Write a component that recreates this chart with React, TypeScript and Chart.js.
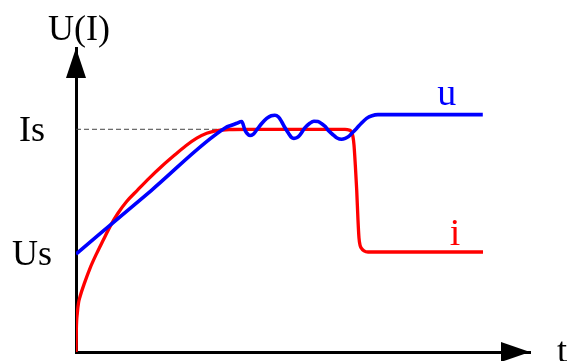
import React, { useEffect, useRef } from 'react';
import { Chart, registerables } from 'chart.js';

Chart.register(...registerables);

const FONT = '"Liberation Serif", "Times New Roman", serif';

// Axis text
const yAxisTitle = 'U(I)';
const xAxisTitle = 't';
const yTickValues = [0.44, 1.0];
const yTickLabels = ['Us', 'Is'];
const T_MAX = 100;
const U_MAX = 1.365;

// Series names
const voltageName = 'u';
const currentName = 'i';

// Voltage u(t)
const voltageTime = [0, 16.5, 33.0, 34.1, 35.4, 36.5, 37.2, 37.7, 38.3, 39.0, 39.8, 40.9, 42.0, 43.0, 43.8, 44.6, 45.3, 46.0, 46.8, 47.4, 48.0, 48.7, 49.3, 50.4, 51.5, 52.4, 53.3, 54.2, 54.9, 55.7, 56.7, 57.5, 58.5, 59.3, 60.0, 60.8, 61.8, 62.8, 64.0, 65.2, 66.5, 68.1, 89.6];
const voltageValue = [0.44, 0.724, 1.008, 1.017, 1.027, 1.035, 0.997, 0.981, 0.972, 0.977, 0.997, 1.026, 1.049, 1.061, 1.063, 1.055, 1.034, 1.008, 0.982, 0.965, 0.959, 0.963, 0.974, 1.006, 1.027, 1.036, 1.035, 1.024, 1.012, 0.992, 0.974, 0.961, 0.955, 0.959, 0.967, 0.983, 1.004, 1.026, 1.049, 1.061, 1.066, 1.066, 1.066];

// Current i(t)
const currentTime = [0, 0.07, 0.29, 0.55, 0.88, 1.98, 3.08, 4.56, 6.01, 7.49, 9.2, 11.2, 13.6, 16.2, 18.9, 21.6, 24.2, 26.6, 28.8, 31.0, 33.7, 38.3, 59.25, 60.13, 60.68, 61.01, 61.23, 61.52, 61.83, 62.11, 62.33, 62.56, 62.89, 63.44, 64.32, 89.65];
const currentValue = [0, 0.099, 0.175, 0.22, 0.248, 0.316, 0.376, 0.443, 0.503, 0.563, 0.622, 0.677, 0.728, 0.782, 0.834, 0.882, 0.926, 0.96, 0.982, 0.994, 0.999, 1.0, 1.0, 0.997, 0.988, 0.966, 0.93, 0.84, 0.727, 0.593, 0.512, 0.48, 0.465, 0.454, 0.449, 0.449];

// Is reference level
const isLevelTime = [0, 37];
const isLevelValue = [1, 1];

const toPoints = (xs: number[], ys: number[]) => xs.map((x, k) => ({ x, y: ys[k] }));

const decorPlugin = {
  id: 'decor',
  afterDraw(chart: any) {
    const { ctx, chartArea } = chart;
    const { left, right, top, bottom } = chartArea;
    ctx.save();
    ctx.fillStyle = '#000';
    // y arrow
    ctx.beginPath();
    ctx.moveTo(left, top);
    ctx.lineTo(left - 10, top + 30);
    ctx.lineTo(left + 10, top + 30);
    ctx.closePath();
    ctx.fill();
    // x arrow
    ctx.beginPath();
    ctx.moveTo(right, bottom);
    ctx.lineTo(right - 29, bottom - 10);
    ctx.lineTo(right - 29, bottom + 10);
    ctx.closePath();
    ctx.fill();

    ctx.font = '36px ' + FONT;
    ctx.textBaseline = 'alphabetic';
    ctx.textAlign = 'center';
    ctx.fillText(yAxisTitle, left + 3, top - 8);
    ctx.textAlign = 'left';
    ctx.fillText(xAxisTitle, right + 27, bottom + 10);

    const metaU = chart.getDatasetMeta(0);
    const metaI = chart.getDatasetMeta(1);
    const lastU = metaU.data[metaU.data.length - 1];
    const lastI = metaI.data[metaI.data.length - 1];
    ctx.font = '38px ' + FONT;
    ctx.textAlign = 'center';
    ctx.fillStyle = '#0000ff';
    ctx.fillText(voltageName, lastU.x - 36, lastU.y - 10);
    ctx.fillStyle = '#ff0000';
    ctx.fillText(currentName, lastI.x - 28, lastI.y - 7);
    ctx.restore();
  },
};

export default function App() {
  const ref = useRef<HTMLCanvasElement | null>(null);
  useEffect(() => {
    if (!ref.current) return;
    const chart = new Chart(ref.current, {
      type: 'line',
      data: {
        datasets: [
          {
            label: voltageName,
            data: toPoints(voltageTime, voltageValue),
            borderColor: '#0000ff',
            borderWidth: 3.6,
            pointRadius: 0,
            cubicInterpolationMode: 'monotone',
            borderJoinStyle: 'round',
            fill: false,
          },
          {
            label: currentName,
            data: toPoints(currentTime, currentValue),
            borderColor: '#ff0000',
            borderWidth: 3.3,
            pointRadius: 0,
            cubicInterpolationMode: 'monotone',
            borderJoinStyle: 'round',
            fill: false,
          },
          {
            label: 'Is',
            data: toPoints(isLevelTime, isLevelValue),
            borderColor: '#444444',
            borderWidth: 1,
            borderDash: [5, 3],
            pointRadius: 0,
            tension: 0,
            fill: false,
          },
        ],
      },
      options: {
        responsive: false,
        animation: false,
        events: [],
        layout: { padding: { left: 0, right: 38, top: 48, bottom: 39 } },
        plugins: { legend: { display: false }, tooltip: { enabled: false }, title: { display: false } },
        scales: {
          x: {
            type: 'linear',
            min: 0,
            max: T_MAX,
            ticks: { display: false },
            grid: { display: false, drawTicks: false },
            border: { display: true, color: '#000', width: 3 },
          },
          y: {
            type: 'linear',
            min: 0,
            max: U_MAX,
            afterBuildTicks: (scale: any) => {
              scale.ticks = yTickValues.map((v) => ({ value: v }));
            },
            ticks: {
              callback: (v: any) => {
                const k = yTickValues.indexOf(Number(v));
                return k >= 0 ? yTickLabels[k] : '';
              },
              font: { family: FONT, size: 36, lineHeight: 0.5 },
              color: '#000',
              padding: 12,
              crossAlign: 'center',
              labelOffset: 2,
              autoSkip: false,
            },
            grid: { display: true, color: 'rgba(0,0,0,0)', drawOnChartArea: false, drawTicks: true, tickLength: 12 },
            border: { display: true, color: '#000', width: 3 },
          },
        },
      },
      plugins: [decorPlugin],
    } as any);
    return () => chart.destroy();
  }, []);
  return (
    <div style={{ position: 'fixed', left: 0, top: 0, width: 568, height: 361, overflow: 'hidden', background: '#fff' }}>
      <canvas ref={ref} width={568} height={391} style={{ display: 'block' }} />
    </div>
  );
}
